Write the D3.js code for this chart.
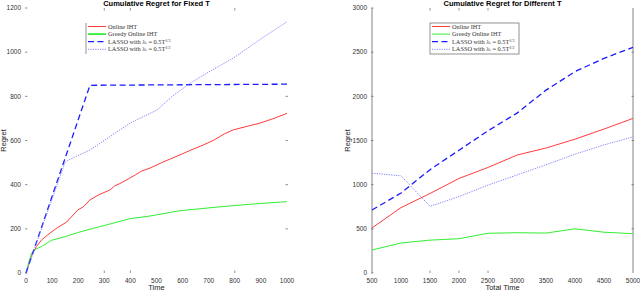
<!DOCTYPE html>
<html>
<head>
<meta charset="utf-8">
<script src="https://cdn.jsdelivr.net/npm/d3@7"></script>
<style>
  body { margin: 0; background: #fff; }
  svg { display: block; }
  .tick-label { font-family: "Liberation Sans", Arial, sans-serif; font-size: 6.5px; fill: #333; }
  .title { font-family: "Liberation Sans", Arial, sans-serif; font-size: 7.5px; font-weight: bold; fill: #000; }
  .axis-label { font-family: "Liberation Sans", Arial, sans-serif; font-size: 7.5px; fill: #222; }
  .legend-text { font-family: "Liberation Serif", "DejaVu Serif", serif; font-size: 6.3px; fill: #333; }
</style>
</head>
<body>
<div id="chart"></div>
<script>
const width = 640, height = 292;

// ---- left panel: cumulative regret for fixed T ----
const leftRed = [[0,0],[20,75],[40,120],[60,150],[92,181],[120,205],[156,231],[180,262],[198,285],[220,300],[245,331],[280,355],[322,376],[340,395],[360,405],[398,430],[420,445],[440,460],[475,475],[520,500],[552,516],[600,540],[628,555],[680,580],[717,600],[760,630],[794,648],[850,665],[897,679],[950,700],[1000,723]];
const leftGreen = [[0,0],[10,45],[20,85],[30,104],[60,120],[97,148],[150,165],[198,183],[260,203],[322,222],[398,246],[475,258],[590,282],[693,294],[794,305],[900,315],[1000,323]];
const leftDashed = [[0,0],[245,850],[1000,855]];
const leftDotted = [[0,0],[149,500],[160,510],[245,557],[300,600],[400,680],[502,738],[560,800],[628,859],[700,910],[794,973],[900,1060],[1000,1138]];
const leftXTicks = [0,100,200,300,400,500,600,700,800,900,1000];
const leftYTicks = [0,200,400,600,800,1000,1200];

// ---- right panel: cumulative regret for different T ----
const totalT = [500,1000,1500,2000,2500,3000,3500,4000,4500,5000];
const rightRed = [510,740,900,1070,1195,1335,1415,1515,1630,1750];
const rightGreen = [260,340,372,388,450,456,452,500,462,445];
const rightDashed = [713,905,1170,1390,1610,1810,2070,2280,2430,2555];
const rightDotted = [1130,1100,755,865,995,1110,1225,1345,1450,1540];
const rightXTicks = [500,1000,1500,2000,2500,3000,3500,4000,4500,5000];
const rightYTicks = [0,500,1000,1500,2000,2500,3000];

const legendNames = ["Online IHT", "Greedy Online IHT", "LASSO with \u03bb\u209c = 0.5T", "LASSO with \u03bb\u209c = 0.5T"];
const legendExps = ["", "", "1/3", "1/2"];

const styles = [
  { color: "#ff3b3b", w: 1, dash: null },
  { color: "#33ee33", w: 1, dash: null },
  { color: "#1a1aff", w: 1.3, dash: "6,3.5" },
  { color: "#8080ff", w: 1, dash: "1.2,1.2" }
];

const svg = d3.select("#chart").append("svg").attr("width", width).attr("height", height);

function drawPanel(cfg) {
  const x = d3.scaleLinear().domain(cfg.xDomain).range([cfg.left, cfg.right]);
  const y = d3.scaleLinear().domain(cfg.yDomain).range([cfg.bottom, cfg.top]);
  const g = svg.append("g");

  if (cfg.frame) {
    g.append("line").attr("x1", cfg.left).attr("x2", cfg.left).attr("y1", cfg.top).attr("y2", cfg.bottom)
      .attr("stroke", "#777").attr("stroke-width", 0.9);
    g.append("line").attr("x1", cfg.right).attr("x2", cfg.right).attr("y1", cfg.top).attr("y2", cfg.bottom)
      .attr("stroke", "#777").attr("stroke-width", 0.9);
  }

  // tick labels
  g.selectAll(".yl").data(cfg.yTicks).enter().append("text")
    .attr("class", "tick-label").attr("x", cfg.left - 5).attr("y", d => y(d) + 2.3)
    .attr("text-anchor", "end").text(d => d);
  g.selectAll(".yt").data(cfg.yTicks).enter().append("line")
    .attr("x1", cfg.left - 1).attr("x2", cfg.left + 1.5).attr("y1", d => y(d)).attr("y2", d => y(d))
    .attr("stroke", "#666").attr("stroke-width", 0.7);
  g.selectAll(".xl").data(cfg.xTicks).enter().append("text")
    .attr("class", "tick-label").attr("x", d => x(d)).attr("y", cfg.bottom + 9.5)
    .attr("text-anchor", "middle").text(d => d);

  // sparse inner tick marks (top / bottom / right)
  cfg.tbTicks.forEach(v => {
    g.append("line").attr("x1", x(v)).attr("x2", x(v)).attr("y1", cfg.top).attr("y2", cfg.top + 2.5)
      .attr("stroke", "#666").attr("stroke-width", 0.7);
    g.append("line").attr("x1", x(v)).attr("x2", x(v)).attr("y1", cfg.bottom - 2.5).attr("y2", cfg.bottom)
      .attr("stroke", "#666").attr("stroke-width", 0.7);
  });
  cfg.rTicks.forEach(v => {
    g.append("line").attr("x1", cfg.right - 1.5).attr("x2", cfg.right + 1).attr("y1", y(v)).attr("y2", y(v))
      .attr("stroke", "#666").attr("stroke-width", 0.7);
  });

  const line = d3.line().x(d => x(d[0])).y(d => y(d[1]));
  cfg.series.forEach((s, i) => {
    const st = styles[i];
    g.append("path").datum(s).attr("d", line).attr("fill", "none")
      .attr("stroke", st.color).attr("stroke-width", st.w)
      .attr("stroke-dasharray", st.dash);
  });

  g.append("text").attr("class", "title").attr("x", (cfg.left + cfg.right) / 2).attr("y", 6)
    .attr("text-anchor", "middle").text(cfg.title);
  g.append("text").attr("class", "axis-label").attr("x", (cfg.left + cfg.right) / 2).attr("y", 290)
    .attr("text-anchor", "middle").text(cfg.xLabel);
  g.append("text").attr("class", "axis-label")
    .attr("transform", `translate(${cfg.yLabelX},${(cfg.top + cfg.bottom) / 2}) rotate(-90)`)
    .attr("text-anchor", "middle").text("Regret");

  // legend
  const lg = g.append("g").attr("transform", `translate(${cfg.legX},${cfg.legY})`);
  if (cfg.legBox) {
    lg.append("rect").attr("x", 0).attr("y", 0).attr("width", 89).attr("height", 31)
      .attr("fill", "#fff").attr("stroke", "#777").attr("stroke-width", 0.8);
  } else {
    lg.append("line").attr("x1", 0).attr("x2", 0).attr("y1", 0).attr("y2", 31)
      .attr("stroke", "#777").attr("stroke-width", 0.8);
  }
  legendNames.forEach((name, i) => {
    const st = styles[i];
    const yy = 3.5 + i * 7.6;
    lg.append("line").attr("x1", 2).attr("x2", 20).attr("y1", yy).attr("y2", yy)
      .attr("stroke", st.color).attr("stroke-width", i === 1 && !cfg.legBox ? 1.8 : st.w)
      .attr("stroke-dasharray", st.dash);
    const t = lg.append("text").attr("class", "legend-text").attr("x", 22).attr("y", yy + 2).text(name);
    if (legendExps[i]) {
      t.append("tspan").attr("dy", -2.2).style("font-size", "4px").text(legendExps[i]);
    }
  });
}

drawPanel({
  left: 26, right: 287, top: 8, bottom: 273,
  xDomain: [0, 1000], yDomain: [0, 1200],
  xTicks: leftXTicks, yTicks: leftYTicks,
  tbTicks: [300, 400, 800], rTicks: [200, 400, 600, 800],
  series: [leftRed, leftGreen, leftDashed, leftDotted],
  title: "Cumulative Regret for Fixed T", xLabel: "Time", yLabelX: 6,
  legX: 86, legY: 23, legBox: false, frame: false
});

drawPanel({
  left: 372, right: 633, top: 8, bottom: 273,
  xDomain: [500, 5000], yDomain: [0, 3000],
  xTicks: rightXTicks, yTicks: rightYTicks,
  tbTicks: [1500, 2000, 2500], rTicks: [500, 1000, 1500, 2000, 2500],
  series: [totalT.map((t, i) => [t, rightRed[i]]), totalT.map((t, i) => [t, rightGreen[i]]),
           totalT.map((t, i) => [t, rightDashed[i]]), totalT.map((t, i) => [t, rightDotted[i]])],
  title: "Cumulative Regret for Different T", xLabel: "Total Time", yLabelX: 350,
  legX: 430, legY: 23, legBox: true, frame: true
});
</script>
</body>
</html>
